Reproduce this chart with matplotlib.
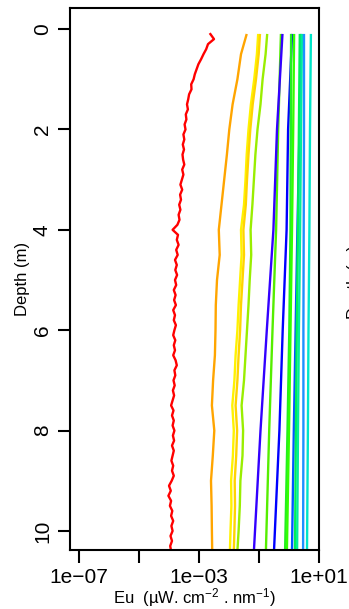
import matplotlib
matplotlib.use('Agg')
import matplotlib.pyplot as plt
import numpy as np

plt.rcParams['font.family'] = ['Liberation Sans', 'DejaVu Sans']
plt.rcParams['mathtext.default'] = 'regular'

# red profile, fine depth grid (m) and log10(Eu)
red_depth = [round(0.1 * i, 1) for i in range(1, 105)]
red_log = [
    -2.62, -2.50, -2.70, -2.76, -2.85, -2.93, -3.02, -3.08, -3.14, -3.18,
    -3.26, -3.25, -3.33, -3.36, -3.40, -3.37, -3.44, -3.42, -3.48, -3.45,
    -3.52, -3.49, -3.54, -3.50, -3.55, -3.53, -3.49, -3.56, -3.52, -3.57,
    -3.62, -3.56, -3.63, -3.60, -3.66, -3.62, -3.68, -3.65, -3.72, -3.88,
    -3.70, -3.74, -3.68, -3.76, -3.71, -3.80, -3.74, -3.79, -3.73, -3.80,
    -3.76, -3.84, -3.78, -3.83, -3.77, -3.86, -3.80, -3.84, -3.77, -3.82,
    -3.86, -3.79, -3.84, -3.80, -3.86, -3.78, -3.74, -3.82, -3.79, -3.85,
    -3.81, -3.87, -3.83, -3.88, -3.93, -3.85, -3.90, -3.84, -3.88, -3.82,
    -3.87, -3.83, -3.90, -3.84, -3.88, -3.92, -3.86, -3.90, -3.84, -3.91,
    -4.00, -3.94, -4.02, -3.93, -3.97, -3.89, -3.93, -3.86, -3.92, -3.88,
    -3.95, -3.90, -3.96, -3.93,
]

# orange / yellow / yellowgreen profiles on a 0.5 m grid
depth = [0.12, 0.5, 1.0, 1.5, 2.0, 2.5, 3.0, 3.5, 4.0, 4.5, 5.0,
         5.5, 6.0, 6.5, 7.0, 7.5, 8.0, 8.5, 9.0, 9.5, 10.0, 10.4]
orange_log = [-1.42, -1.60, -1.72, -1.88, -1.99, -2.07, -2.16, -2.25, -2.34, -2.31, -2.40,
              -2.44, -2.45, -2.47, -2.53, -2.57, -2.49, -2.54, -2.60, -2.58, -2.57, -2.56]
yellow_log = [-1.03, -1.07, -1.16, -1.27, -1.35, -1.41, -1.45, -1.50, -1.60, -1.58, -1.63,
              -1.68, -1.72, -1.78, -1.82, -1.89, -1.84, -1.87, -1.93, -1.92, -1.95, -1.97]
gold_log = [-0.97, -1.01, -1.10, -1.21, -1.29, -1.35, -1.40, -1.44, -1.52, -1.50, -1.55,
            -1.60, -1.63, -1.68, -1.72, -1.78, -1.73, -1.76, -1.81, -1.80, -1.82, -1.84]
ygreen_log = [-0.73, -0.78, -0.88, -0.95, -1.05, -1.12, -1.17, -1.22, -1.28, -1.26, -1.31,
              -1.35, -1.40, -1.45, -1.50, -1.58, -1.53, -1.55, -1.62, -1.64, -1.68, -1.72]

# the straighter profiles, coarse grid
depth_c = [0.12, 2.0, 4.0, 6.0, 8.0, 10.4]
blue1_log = [-0.22, -0.40, -0.52, -0.74, -0.95, -1.17]
green1_log = [-0.27, -0.36, -0.43, -0.55, -0.66, -0.77]
blue2_log = [0.10, -0.03, -0.08, -0.21, -0.32, -0.50]
green2_log = [0.07, 0.06, 0.05, 0.01, -0.05, -0.13]
lime2_log = [0.17, 0.14, 0.10, 0.05, 0.00, -0.07]
blue3_log = [0.40, 0.35, 0.28, 0.22, 0.16, 0.10]
green3_log = [0.36, 0.33, 0.30, 0.26, 0.23, 0.20]
lime3_log = [0.43, 0.40, 0.37, 0.33, 0.30, 0.27]
dodger_log = [0.50, 0.50, 0.49, 0.48, 0.48, 0.47]
cyan_log = [0.73, 0.70, 0.68, 0.65, 0.63, 0.60]

x_ticks = [1e-7, 1e-5, 1e-3, 1e-1, 1e1]
x_tick_labels = ['1e\u221207', '', '1e\u221203', '', '1e+01']
y_ticks = [0, 2, 4, 6, 8, 10]

profiles = [
    (red_depth, red_log, '#FF0000'),
    (depth, orange_log, '#FFA500'),
    (depth, yellow_log, '#FFF200'),
    (depth, gold_log, '#FFD400'),
    (depth, ygreen_log, '#99EE00'),
    (depth_c, green1_log, '#55EE00'),
    (depth_c, blue1_log, '#3300FF'),
    (depth_c, blue2_log, '#0000FF'),
    (depth_c, green2_log, '#22EE22'),
    (depth_c, lime2_log, '#33FF00'),
    (depth_c, blue3_log, '#0055FF'),
    (depth_c, green3_log, '#00EE55'),
    (depth_c, lime3_log, '#00EE99'),
    (depth_c, dodger_log, '#1E90FF'),
    (depth_c, cyan_log, '#00E5C8'),
]

fig = plt.figure(figsize=(3.49, 6.09), dpi=100)
ax = fig.add_axes([70 / 349, 1 - 550 / 609, 249 / 349, 542 / 609])

for d, v, c in profiles:
    ax.plot(10 ** np.array(v), d, color=c, lw=1.7)

ax.set_xscale('log')
ax.set_xlim(10 ** -7.3, 10 ** 1)
ax.set_ylim(10.38, -0.42)
ax.set_xticks(x_ticks)
ax.set_xticklabels(x_tick_labels)
ax.minorticks_off()
ax.set_yticks(y_ticks)
ax.set_yticklabels([str(t) for t in y_ticks], rotation=90, va='center')

for s in ax.spines.values():
    s.set_linewidth(1.5)
ax.tick_params(length=9, width=1.5, labelsize=15, pad=4)
ax.tick_params(axis='x', pad=4)

ax.set_xlabel('Eu  (\u00b5W. cm$^{-2}$ . nm$^{-1}$)', fontsize=12, labelpad=-0.5)
ax.set_ylabel('Depth (m)', fontsize=12, labelpad=2)

# cut-off label of the neighbouring panel (only its edge shows)
fig.text(347.5 / 349, 1 - 282 / 609, 'Depth (m)', rotation=90, ha='left', va='center', fontsize=12)

plt.savefig('out.png', dpi=100)
